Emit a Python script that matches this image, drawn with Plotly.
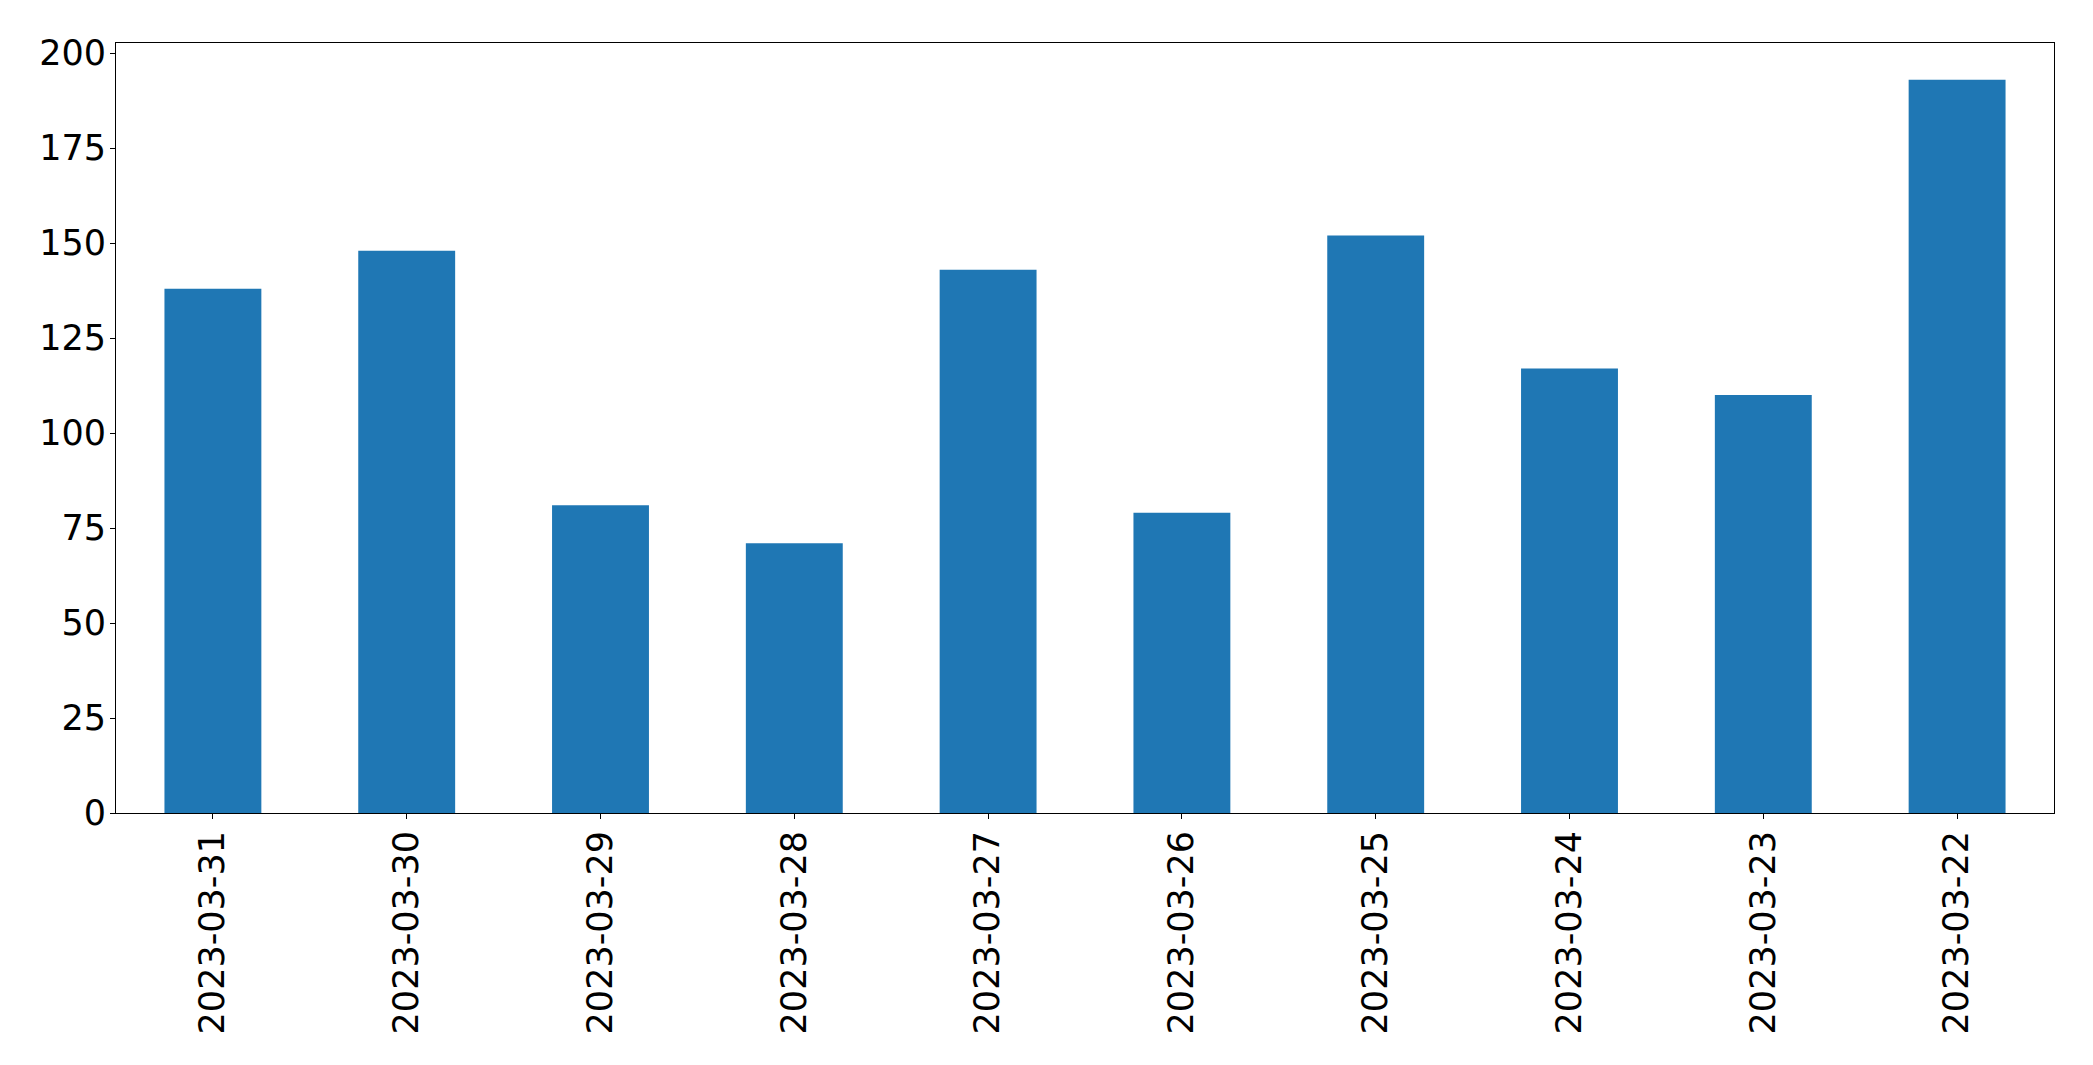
import plotly.graph_objects as go

dates = ["2023-03-31", "2023-03-30", "2023-03-29", "2023-03-28", "2023-03-27",
         "2023-03-26", "2023-03-25", "2023-03-24", "2023-03-23", "2023-03-22"]
counts = [138, 148, 81, 71, 143, 79, 152, 117, 110, 193]
y_ticks = [0, 25, 50, 75, 100, 125, 150, 175, 200]

fig = go.Figure(go.Bar(x=dates, y=counts, marker_color="#1f77b4",
                       marker_line_width=0, width=0.5))

font = dict(family="DejaVu Sans", size=35, color="black")
axis_common = dict(showline=True, linecolor="black", linewidth=1, mirror=True,
                   ticks="outside", ticklen=5, tickwidth=1, tickcolor="black",
                   showgrid=False, zeroline=False, tickfont=font, automargin=False)

# page body has an 8px default margin; size the figure to fit inside the window
fig.update_layout(
    template="none",
    width=2077, height=1049,
    margin=dict(l=108, r=31, t=35, b=244, autoexpand=False),
    paper_bgcolor="white", plot_bgcolor="white",
    showlegend=False, bargap=0.5,
    xaxis=dict(type="category", tickangle=-90, range=[-0.5, 9.5],
               ticklabelstandoff=-2, **axis_common),
    yaxis=dict(range=[0, 202.65], tickvals=y_ticks, ticklabelstandoff=-3,
               **axis_common),
)

fig.write_html("out.html")
